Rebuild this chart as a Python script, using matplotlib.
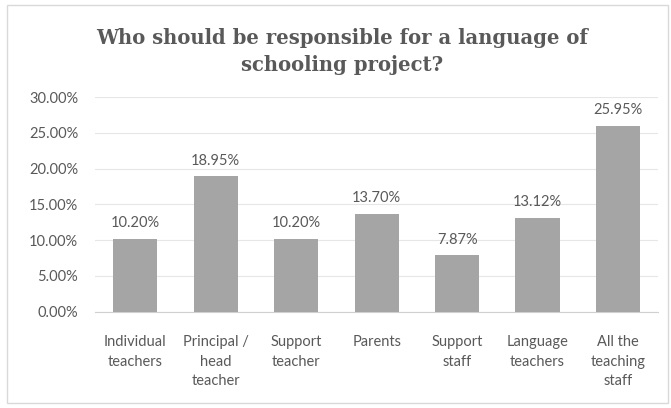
import matplotlib
matplotlib.use("Agg")
import matplotlib.pyplot as plt
from matplotlib.patches import Rectangle

categories = ["Individual\nteachers", "Principal /\nhead\nteacher", "Support\nteacher",
              "Parents", "Support\nstaff", "Language\nteachers", "All the\nteaching\nstaff"]
values = [10.20, 18.95, 10.20, 13.70, 7.87, 13.12, 25.95]
yticks = [0, 5, 10, 15, 20, 25, 30]

plt.rcParams['font.family'] = ['Lato', 'DejaVu Sans']
text_col = "#595959"

fig = plt.figure(figsize=(6.71, 4.08), dpi=100)
fig.patches.append(Rectangle((0.010, 0.012), 0.985, 0.975, transform=fig.transFigure,
                             fill=False, edgecolor="#d9d9d9", linewidth=1))
ax = fig.add_axes([0.1416, 0.236, 0.8394, 0.526])

x = range(len(categories))
bars = ax.bar(x, values, width=0.55, color="#a5a5a5", zorder=3)
for b, v in zip(bars, values):
    ax.text(b.get_x() + b.get_width() / 2, v + 1.2, f"{v:.2f}%", ha="center", va="bottom",
            fontsize=10.5, color=text_col)

ax.set_ylim(0, 30)
ax.set_xlim(-0.5, len(categories) - 0.5)
ax.set_yticks(yticks)
ax.set_yticklabels([f"{t:.2f}%" for t in yticks], fontsize=10.5, color=text_col)
ax.set_xticks(list(x))
ax.set_xticklabels(categories, fontsize=10.5, color=text_col, linespacing=1.5)
ax.tick_params(length=0)
ax.tick_params(axis="y", pad=12)
ax.tick_params(axis="x", pad=17)
ax.grid(axis="y", color="#e6e6e6", linewidth=0.8, zorder=0)
for s in ["top", "right", "left"]:
    ax.spines[s].set_visible(False)
ax.spines["bottom"].set_color("#d0d0d0")

fig.text(0.51, 0.874, "Who should be responsible for a language of\nschooling project?",
         ha="center", va="center", fontsize=14.1, fontweight="bold", color=text_col,
         family="DejaVu Serif", linespacing=1.4)

fig.savefig("out.png", dpi=100)
